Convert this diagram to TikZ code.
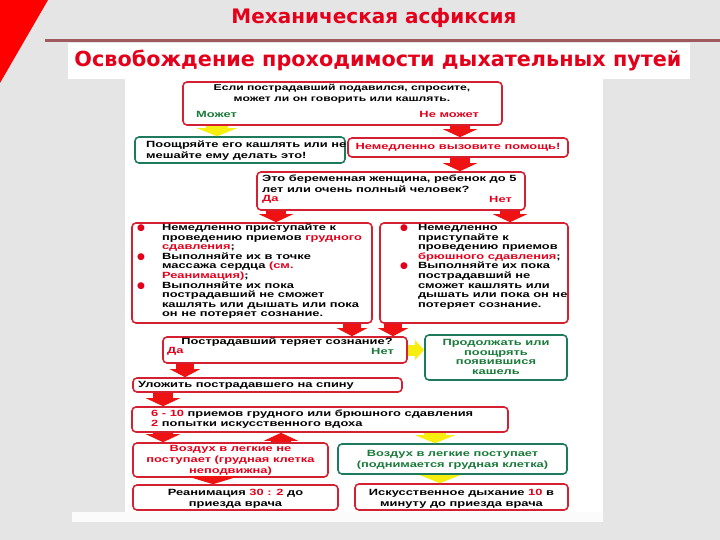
\documentclass[tikz,border=0pt]{standalone}
\usepackage{fontspec}
\usepackage{graphicx}
\setmainfont{Liberation Sans}
\newfontfamily\fc[FakeStretch=1.43]{Liberation Sans}
\newfontfamily\ttl{DejaVu Sans}
\usetikzlibrary{arrows.meta}
\definecolor{bg}{HTML}{E5E5E5}
\definecolor{rd}{HTML}{E4001B}
\definecolor{rborder}{HTML}{D42030}
\definecolor{gborder}{HTML}{1E7A5C}
\definecolor{gtext}{HTML}{1A7A3A}
\definecolor{ylw}{HTML}{F7EE10}
\definecolor{arrred}{HTML}{EE1212}
\definecolor{rulec}{HTML}{A05A5E}
\tikzset{
  rbox/.style={draw=rborder, line width=1.6pt, rounded corners=4pt, fill=white, inner sep=0pt},
  gbox/.style={draw=gborder, line width=1.6pt, rounded corners=4pt, fill=white, inner sep=0pt},
  txt/.style={inner sep=0pt, font=\fc\bfseries\fontsize{9}{9.6}\selectfont},
  txtw/.style={inner sep=0pt, font=\fc\bfseries\fontsize{9}{11}\selectfont},
  rarr/.style={draw=arrred, line width=20pt, -{Triangle[width=34pt,length=8pt]}},
  rarrs/.style={draw=arrred, line width=18pt, -{Triangle[width=30pt,length=8pt]}},
  rarrw/.style={draw=arrred, line width=30pt, -{Triangle[width=52pt,length=8pt]}},
  yarr/.style={draw=ylw, line width=22pt, -{Triangle[width=40pt,length=8pt]}},
  yarrs/.style={draw=ylw, line width=11pt, -{Triangle[width=19pt,length=9pt]}},
  ttlstyle/.style={inner sep=0pt, text=rd, font=\ttl\bfseries},
}
\begin{document}
\begin{tikzpicture}[x=1pt,y=-1pt]
\useasboundingbox (0,0) rectangle (720,540);
% slide background
\fill[bg] (0,0) rectangle (720,540);
\fill[red] (0,0) -- (48,0) -- (0,83) -- cycle;
\node[ttlstyle] (title) at (374,18) {\resizebox{285pt}{!}{Механическая асфиксия}};
\draw[rulec, line width=3pt] (45,41) -- (720,41);
\fill[white] (68,43) rectangle (690,79);
\node[ttlstyle] (subtitle) at (378,61) {\resizebox{607pt}{!}{Освобождение проходимости дыхательных путей}};
\fill[white] (125,79) rectangle (603,512);
\fill[white!85!bg] (72,512) rectangle (603,522);

% boxes
\node[rbox, minimum width=319pt, minimum height=43pt] (b1) at (342.5,103.5) {};
\node[gbox, minimum width=210pt, minimum height=26pt] (cough) at (240,150) {};
\node[rbox, minimum width=220pt, minimum height=19pt] (help) at (458,147.5) {};
\node[rbox, minimum width=268pt, minimum height=38pt] (q2) at (391,191) {};
\node[rbox, minimum width=240pt, minimum height=100pt] (left) at (252,273) {};
\node[rbox, minimum width=188pt, minimum height=100pt] (right) at (474,273) {};
\node[rbox, minimum width=244pt, minimum height=26pt] (lose) at (285,350) {};
\node[gbox, minimum width=142pt, minimum height=45pt] (cont) at (496,357.5) {};
\node[rbox, minimum width=269pt, minimum height=14pt] (back) at (267.5,385) {};
\node[rbox, minimum width=376pt, minimum height=25pt] (tech) at (320,419.5) {};
\node[rbox, minimum width=195pt, minimum height=34pt] (noair) at (230.5,460) {};
\node[gbox, minimum width=229pt, minimum height=30pt] (air) at (452.5,459) {};
\node[rbox, minimum width=205pt, minimum height=25pt] (reanim) at (235.5,497.5) {};
\node[rbox, minimum width=213pt, minimum height=26pt] (breath) at (461.5,497) {};

% arrows
\draw[yarr] (b1.south -| 217,0) -- (cough.north -| 217,0);
\draw[rarr] (b1.south -| 460,0) -- (help.north -| 460,0);
\draw[rarr] (help.south -| 460,0) -- (q2.north -| 460,0);
\draw[rarr] (q2.south -| 276,0) -- (left.north -| 276,0);
\draw[rarr] (q2.south -| 510,0) -- (right.north -| 510,0);
\draw[rarrs] (left.south -| 352,0) -- (lose.north -| 352,0);
\draw[rarrs] (right.south -| 393,0) -- (lose.north -| 393,0);
\draw[yarrs] (lose.east) -- (cont.west |- lose.east);
\draw[rarrs] (lose.south -| 185,0) -- (back.north -| 185,0);
\draw[rarr] (back.south -| 163,0) -- (tech.north -| 163,0);
\draw[rarr] (tech.south -| 163,0) -- (noair.north -| 163,0);
\draw[rarr] (noair.north -| 281,0) -- (tech.south -| 281,0);
\draw[yarr] (tech.south -| 435,0) -- (air.north -| 435,0);
\draw[rarrw] (noair.south -| 213,0) -- (reanim.north -| 213,0);
\draw[yarr] (air.south -| 440,0) -- (breath.north -| 440,0);

% texts
\node[inner sep=0pt, font=\fc\bfseries\fontsize{8.5}{11}\selectfont, align=center] (t1) at (342,93.5) {Если пострадавший подавился, спросите,\\может ли он говорить или кашлять.};
\node[txt, text=gtext, anchor=west] (may) at (196,114) {Может};
\node[txt, text=rd, anchor=east] (maynot) at (479,114) {Не может};
\node[txtw, align=left, anchor=west] (tc) at (146,150.5) {Поощряйте его кашлять или не\\мешайте ему делать это!};
\node[txt, text=rd] (th) at (458,147.5) {Немедленно вызовите помощь!};
\node[txtw, align=left, anchor=north west] (tq) at (262,175) {Это беременная женщина, ребенок до 5\\лет или очень полный человек?};
\node[txt, text=rd, anchor=west] (qyes) at (262,199.5) {Да};
\node[txt, text=rd, anchor=east] (qno) at (512,199.5) {Нет};
\node[txt, anchor=north west] (tl) at (137,223.5) {\begin{tabular}{@{}l@{\hspace{17pt}}l@{}}
{\ttl\color{rd}●} & Немедленно приступайте к\\
 & проведению приемов {\color{rd}грудного}\\
 & {\color{rd}сдавления};\\
{\ttl\color{rd}●} & Выполняйте их в точке\\
 & массажа сердца {\color{rd}(см.}\\
 & {\color{rd}Реанимация)};\\
{\ttl\color{rd}●} & Выполняйте их пока\\
 & пострадавший не сможет\\
 & кашлять или дышать или пока\\
 & он не потеряет сознание.
\end{tabular}};
\node[txt, anchor=north west] (tr) at (400,223.5) {\begin{tabular}{@{}l@{\hspace{10pt}}l@{}}
{\ttl\color{rd}●} & Немедленно\\
 & приступайте к\\
 & проведению приемов\\
 & {\color{rd}брюшного сдавления};\\
{\ttl\color{rd}●} & Выполняйте их пока\\
 & пострадавший не\\
 & сможет кашлять или\\
 & дышать или пока он не\\
 & потеряет сознание.
\end{tabular}};
\node[txt] (tls) at (287,342.5) {Пострадавший теряет сознание?};
\node[txt, text=rd, anchor=west] (lyes) at (167,351) {Да};
\node[txt, text=gtext, anchor=east] (lno) at (394,351) {Нет};
\node[txt, text=gtext, align=center] (tcn) at (496,357) {Продолжать или\\поощрять\\появившися\\кашель};
\node[txt, anchor=west] (tb) at (138,385) {Уложить пострадавшего на спину};
\node[txt, align=left, anchor=west] (tt) at (151,419) {{\color{rd}6 - 10} приемов грудного или брюшного сдавления\\{\color{rd}2} попытки искусственного вдоха};
\node[txtw, text=rd, align=center] (tn) at (230.5,460.5) {Воздух в легкие не\\поступает (грудная клетка\\неподвижна)};
\node[txtw, text=gtext, align=center] (ta) at (452.5,460) {Воздух в легкие поступает\\(поднимается грудная клетка)};
\node[txtw, align=center] (trn) at (235.5,499) {Реанимация {\color{rd}30 : 2} до\\приезда врача};
\node[txtw, align=center] (tbr) at (461.5,499) {Искусственное дыхание {\color{rd}10} в\\минуту до приезда врача};
\end{tikzpicture}
\end{document}
